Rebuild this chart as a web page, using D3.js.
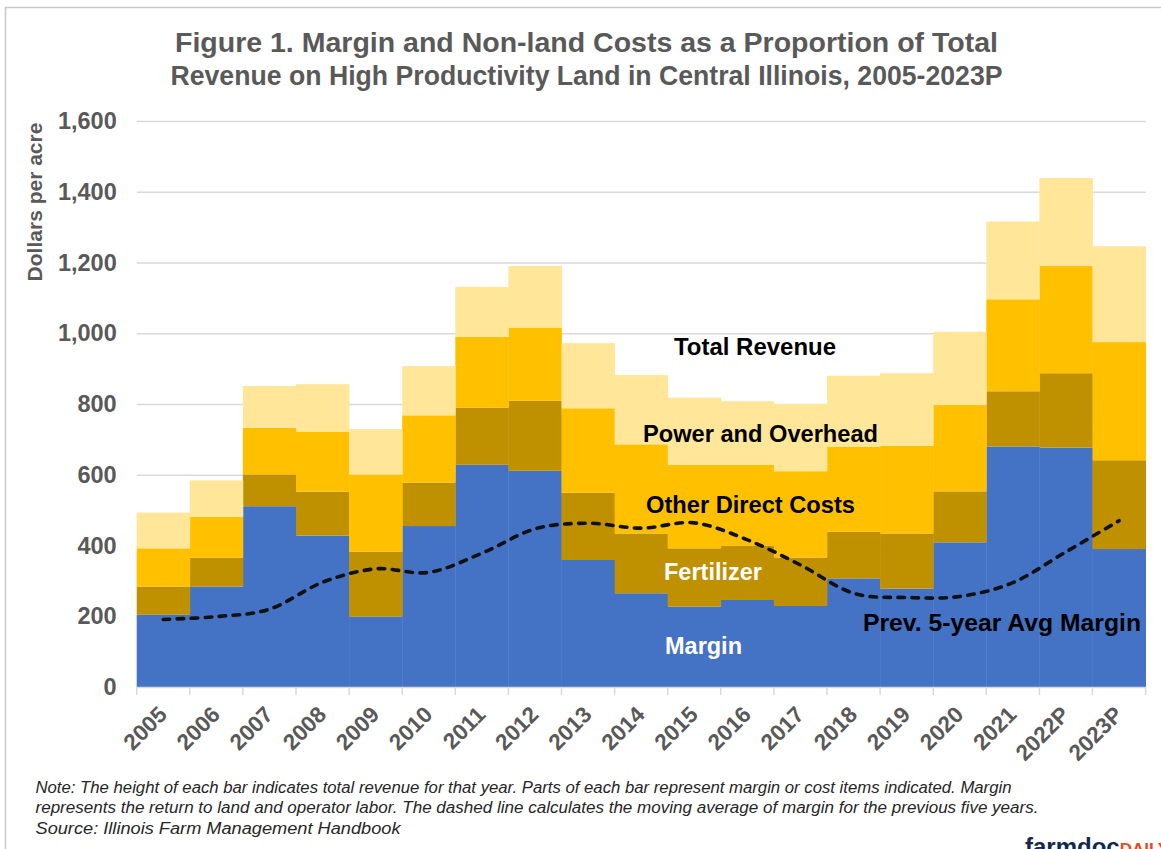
<!DOCTYPE html>
<html>
<head>
<meta charset="utf-8">
<script src="https://cdn.jsdelivr.net/npm/d3@7"></script>
<style>
  html, body { margin: 0; padding: 0; background: #fff; }
  svg { display: block; font-family: "Liberation Sans", Arial, sans-serif; }
</style>
</head>
<body>
<svg id="chart" width="1161" height="849"></svg>
<script>
// categories
const years = ["2005","2006","2007","2008","2009","2010","2011","2012","2013","2014",
               "2015","2016","2017","2018","2019","2020","2021","2022P","2023P"]

// stacked pieces, dollars per acre
const margin     = [204, 284, 511, 428, 199, 455, 628, 611, 359, 265, 227, 246, 229, 307, 278, 409, 680, 677, 390]
const fertilizer = [ 80,  81,  90, 124, 183, 123, 161, 198, 190, 169, 165, 153, 137, 132, 156, 144, 156, 210, 251]
const otherDirect= [108, 116, 132, 170, 219, 190, 201, 206, 239, 252, 236, 229, 244, 240, 248, 244, 260, 303, 334]
const powerOver  = [101, 103, 118, 134, 128, 139, 141, 175, 184, 196, 190, 180, 190, 201, 205, 207, 220, 249, 271]

// previous 5-year average margin (dashed line)
const prevAvg    = [191, 199, 220, 296, 334, 324, 378, 447, 463, 449, 464, 416, 345, 265, 253, 256, 295, 382, 470]

const yTicks = [0, 200, 400, 600, 800, 1000, 1200, 1400, 1600]

const colors = {
    margin: "#4472C4",
    fertilizer: "#BF9000",
    otherDirect: "#FFC000",
    powerOver: "#FFE699",
    grid: "#D9D9D9",
    text: "#595959"
}

const W = 1161, H = 849
const plot = {left: 136.7, right: 1145.6, top: 121, bottom: 687}

const svg = d3.select("#chart")

// frame round the figure
svg.append("rect")
    .attr("x", 5.5).attr("y", 7.5)
    .attr("width", W + 20).attr("height", H + 20)
    .attr("fill", "none")
    .attr("stroke", "#C8C8C8")
    .attr("stroke-width", 1.5)

// table for the stack
const rows = years.map((yr, i) => ({
    year: yr,
    margin: margin[i],
    fertilizer: fertilizer[i],
    otherDirect: otherDirect[i],
    powerOver: powerOver[i]
}))
const keys = ["margin", "fertilizer", "otherDirect", "powerOver"]
const series = d3.stack().keys(keys)(rows)

const x = d3.scaleBand()
    .domain(years)
    .range([plot.left, plot.right])
    .padding(0)

const y = d3.scaleLinear()
    .domain([0, 1600])
    .range([plot.bottom, plot.top])

// gridlines
svg.append("g").attr("class", "grid")
    .selectAll("line")
    .data(yTicks.filter(d => d > 0))
    .enter()
    .append("line")
    .attr("x1", plot.left).attr("x2", plot.right)
    .attr("y1", d => y(d) + 0.5).attr("y2", d => y(d) + 0.5)
    .attr("stroke", colors.grid)
    .attr("stroke-width", 1.3)

// bars
svg.append("g").attr("class", "bars")
    .selectAll("g")
    .data(series)
    .enter()
    .append("g")
    .attr("fill", d => colors[d.key])
    .selectAll("rect")
    .data(d => d)
    .enter()
    .append("rect")
    .attr("x", d => x(d.data.year))
    .attr("width", x.bandwidth() + 0.4)
    .attr("y", d => y(d[1]))
    .attr("height", d => y(d[0]) - y(d[1]))

// y axis (labels only)
const yAxis = d3.axisLeft(y)
    .tickValues(yTicks)
    .tickFormat(d3.format(","))
    .tickSize(0)
    .tickPadding(0)

const yG = svg.append("g")
    .attr("transform", `translate(${plot.left - 20},0)`)
    .call(yAxis)
yG.select(".domain").remove()
yG.selectAll("text")
    .attr("fill", colors.text)
    .attr("font-size", "23.5px")
    .attr("font-weight", "bold")
    .attr("font-family", "Liberation Sans, Arial, sans-serif")

// x axis
const xAxis = d3.axisBottom(x).tickSize(0).tickFormat("")
const xG = svg.append("g")
    .attr("transform", `translate(0,${plot.bottom})`)
    .call(xAxis)
xG.select(".domain").remove()
xG.selectAll(".tick").remove()

xG.append("line")
    .attr("x1", plot.left).attr("x2", plot.right)
    .attr("y1", 0.5).attr("y2", 0.5)
    .attr("stroke", colors.grid).attr("stroke-width", 1.5)

// ticks at the band edges
xG.selectAll(".edge")
    .data(years.map(d => x(d)).concat([plot.right]))
    .enter()
    .append("line")
    .attr("class", "edge")
    .attr("x1", d => d).attr("x2", d => d)
    .attr("y1", 0).attr("y2", 8)
    .attr("stroke", colors.grid).attr("stroke-width", 1.5)

svg.append("g").attr("class", "xlabels")
    .selectAll("text")
    .data(years)
    .enter()
    .append("text")
    .attr("transform", d => `translate(${x(d) + x.bandwidth() / 2 + 5},716) rotate(-45)`)
    .attr("text-anchor", "end")
    .attr("fill", colors.text)
    .attr("font-size", "22.5px")
    .attr("font-weight", "bold")
    .text(d => d)

// dashed line of the previous 5-year margin
const line = d3.line()
    .x((d, i) => x(years[i]) + x.bandwidth() / 2)
    .y(d => y(d))
    .curve(d3.curveCardinal.tension(0))

svg.append("path")
    .datum(prevAvg)
    .attr("d", line)
    .attr("fill", "none")
    .attr("stroke", "#111")
    .attr("stroke-width", 3.6)
    .attr("stroke-dasharray", "6.5,7.5")
    .attr("stroke-linecap", "round")

// labels inside the chart
const labels = [
    {t: "Total Revenue", x: 755, y: 355, c: "#000", w: 162},
    {t: "Power and Overhead", x: 760.5, y: 442, c: "#000", w: 235},
    {t: "Other Direct Costs", x: 750.5, y: 513, c: "#000", w: 209},
    {t: "Fertilizer", x: 713, y: 580, c: "#fff", w: 98},
    {t: "Margin", x: 703.5, y: 654, c: "#fff", w: 77},
    {t: "Prev. 5-year Avg Margin", x: 1002, y: 631, c: "#000", w: 278}
]
svg.append("g").attr("class", "labels")
    .selectAll("text")
    .data(labels)
    .enter()
    .append("text")
    .attr("x", d => d.x).attr("y", d => d.y)
    .attr("text-anchor", "middle")
    .attr("fill", d => d.c)
    .attr("font-size", "23.5px")
    .attr("font-weight", "bold")
    .attr("textLength", d => d.w)
    .attr("lengthAdjust", "spacingAndGlyphs")
    .text(d => d.t)

// y axis title
svg.append("text")
    .attr("transform", "translate(42,202) rotate(-90)")
    .attr("text-anchor", "middle")
    .attr("fill", colors.text)
    .attr("font-size", "21px")
    .attr("font-weight", "bold")
    .text("Dollars per acre")

// title
const titleLines = [
    {t: "Figure 1. Margin and Non-land Costs as a Proportion of Total", w: 823},
    {t: "Revenue on High Productivity Land in Central Illinois, 2005-2023P", w: 832}
]
svg.append("g").attr("class", "title")
    .selectAll("text")
    .data(titleLines)
    .enter()
    .append("text")
    .attr("x", 586.5)
    .attr("y", (d, i) => 52 + i * 33)
    .attr("text-anchor", "middle")
    .attr("fill", colors.text)
    .attr("font-size", "27px")
    .attr("font-weight", "bold")
    .attr("textLength", d => d.w)
    .attr("lengthAdjust", "spacingAndGlyphs")
    .text(d => d.t)

// note under the chart
const noteLines = [
    {t: "Note:  The height of each bar indicates total revenue for that  year. Parts of each bar represent margin or cost items indicated. Margin", w: 976},
    {t: "represents the return to land and operator labor. The dashed line calculates the moving average of margin for the previous five years.", w: 1003},
    {t: "Source: Illinois Farm Management Handbook", w: 365}
]
svg.append("g").attr("class", "note")
    .selectAll("text")
    .data(noteLines)
    .enter()
    .append("text")
    .attr("x", 35.5)
    .attr("y", (d, i) => 793 + i * 20.3)
    .attr("fill", "#262626")
    .attr("font-size", "16px")
    .attr("font-style", "italic")
    .attr("textLength", d => d.w)
    .attr("lengthAdjust", "spacingAndGlyphs")
    .text(d => d.t)

// logo, cut by the bottom edge as in the source image
const logo = svg.append("text")
    .attr("x", 1025).attr("y", 855)
    .attr("font-size", "24px")
    .attr("font-weight", "bold")
logo.append("tspan").attr("fill", "#13294B").text("farmdoc")
logo.append("tspan").attr("fill", "#E84A27").attr("font-size", "17px").text("DAILY")
</script>
</body>
</html>
